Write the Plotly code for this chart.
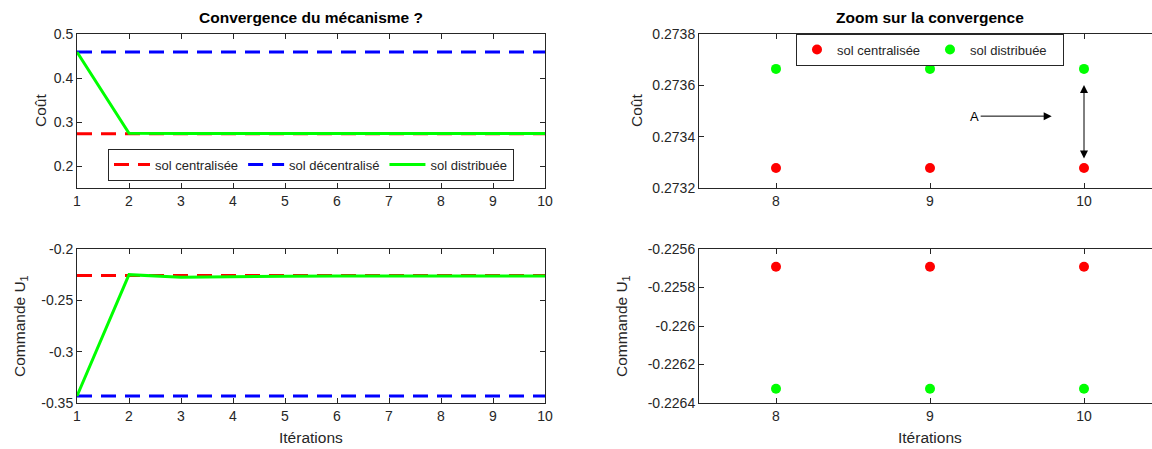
import plotly.graph_objects as go

# ---------------- data ----------------
iterations = [1, 2, 3, 4, 5, 6, 7, 8, 9, 10]
cost_centralised = [0.27328] * 10
cost_decentralised = [0.459] * 10
cost_distributed = [0.459, 0.2745, 0.27372, 0.27368, 0.27367, 0.27367, 0.27367, 0.27367, 0.27367, 0.27367]

u1_centralised = [-0.225692] * 10
u1_decentralised = [-0.3432] * 10
u1_distributed = [-0.3432, -0.2250, -0.2276, -0.2268, -0.2265, -0.22638, -0.22634, -0.226326, -0.226326, -0.226326]

zoom_iter = [8, 9, 10]
zoom_cost_centralised = [0.273278, 0.273278, 0.273278]
zoom_cost_distributed = [0.273664, 0.273664, 0.273664]
zoom_u1_centralised = [-0.225692, -0.225692, -0.225692]
zoom_u1_distributed = [-0.226326, -0.226326, -0.226326]

ticks_cost = [0.2, 0.3, 0.4, 0.5]
ticks_cost_txt = ["0.2", "0.3", "0.4", "0.5"]
ticks_u1 = [-0.35, -0.3, -0.25, -0.2]
ticks_u1_txt = ["-0.35", "-0.3", "-0.25", "-0.2"]
ticks_zcost = [0.2732, 0.2734, 0.2736, 0.2738]
ticks_zcost_txt = ["0.2732", "0.2734", "0.2736", "0.2738"]
ticks_zu1 = [-0.2264, -0.2262, -0.226, -0.2258, -0.2256]
ticks_zu1_txt = ["-0.2264", "-0.2262", "-0.226", "-0.2258", "-0.2256"]

# annotation positions (data coords of the zoom plot)
arrow_A_text_x, arrow_A_tip_x, arrow_A_y = 9.29, 9.79, 0.27348
darrow_x, darrow_top, darrow_bottom = 10, 0.273601, 0.273309

# ---------------- style ----------------
W, H = 1152, 449
RED, BLUE, GREEN = "#FF0000", "#0000FF", "#00FF00"
AX = "#262626"
FONT = "Liberation Sans, Arial, Helvetica, sans-serif"
DASH = "15px,9px"
TICK_SIZE = 14
LABEL_SIZE = 15.5

def px(x):
    return x / W

def py(y):
    return 1 - y / H

fig = go.Figure()

# top-left
fig.add_trace(go.Scatter(x=iterations, y=cost_centralised, mode="lines", name="sol centralisée",
                         line=dict(color=RED, width=3, dash=DASH), xaxis="x", yaxis="y", legend="legend"))
fig.add_trace(go.Scatter(x=iterations, y=cost_decentralised, mode="lines", name="sol décentralisé",
                         line=dict(color=BLUE, width=3, dash=DASH), xaxis="x", yaxis="y", legend="legend"))
fig.add_trace(go.Scatter(x=iterations, y=cost_distributed, mode="lines", name="sol distribuée",
                         line=dict(color=GREEN, width=3), xaxis="x", yaxis="y", legend="legend"))
# bottom-left
fig.add_trace(go.Scatter(x=iterations, y=u1_centralised, mode="lines", showlegend=False,
                         line=dict(color=RED, width=3, dash=DASH), xaxis="x2", yaxis="y2"))
fig.add_trace(go.Scatter(x=iterations, y=u1_decentralised, mode="lines", showlegend=False,
                         line=dict(color=BLUE, width=3, dash=DASH), xaxis="x2", yaxis="y2"))
fig.add_trace(go.Scatter(x=iterations, y=u1_distributed, mode="lines", showlegend=False,
                         line=dict(color=GREEN, width=3), xaxis="x2", yaxis="y2"))
# top-right
fig.add_trace(go.Scatter(x=zoom_iter, y=zoom_cost_centralised, mode="markers", name="sol centralisée",
                         marker=dict(color=RED, size=10), xaxis="x3", yaxis="y3", legend="legend2"))
fig.add_trace(go.Scatter(x=zoom_iter, y=zoom_cost_distributed, mode="markers", name="sol distribuée",
                         marker=dict(color=GREEN, size=10), xaxis="x3", yaxis="y3", legend="legend2"))
# bottom-right
fig.add_trace(go.Scatter(x=zoom_iter, y=zoom_u1_centralised, mode="markers", showlegend=False,
                         marker=dict(color=RED, size=10), xaxis="x4", yaxis="y4"))
fig.add_trace(go.Scatter(x=zoom_iter, y=zoom_u1_distributed, mode="markers", showlegend=False,
                         marker=dict(color=GREEN, size=10), xaxis="x4", yaxis="y4"))

L_DOM = [px(77), px(545)]
R_DOM = [px(699), 1.0]
T_DOM = [py(188), py(34)]
B_DOM = [py(403), py(249)]
R_RANGE = [7.5, 7.5 + (1152 - 699) / 154.0]

def axis(**kw):
    base = dict(showline=True, linecolor=AX, linewidth=1, ticks="inside", ticklen=5,
                tickcolor=AX, tickwidth=1, showgrid=False, zeroline=False,
                tickfont=dict(family=FONT, size=TICK_SIZE, color=AX), automargin=False,
                fixedrange=True)
    base.update(kw)
    return base

fig.update_layout(
    width=W, height=H,
    margin=dict(l=0, r=0, t=0, b=0),
    plot_bgcolor="white", paper_bgcolor="white",
    font=dict(family=FONT, color=AX),
    xaxis=axis(domain=L_DOM, anchor="y", range=[1, 10], tickvals=iterations, mirror="ticks"),
    yaxis=axis(domain=T_DOM, anchor="x", range=[0.15, 0.5], tickvals=ticks_cost,
               ticktext=ticks_cost_txt, mirror="ticks"),
    xaxis2=axis(domain=L_DOM, anchor="y2", range=[1, 10], tickvals=iterations, mirror="ticks"),
    yaxis2=axis(domain=B_DOM, anchor="x2", range=[-0.35, -0.2], tickvals=ticks_u1,
                ticktext=ticks_u1_txt, mirror="ticks"),
    xaxis3=axis(domain=R_DOM, anchor="y3", range=R_RANGE, tickvals=zoom_iter, mirror="ticks"),
    yaxis3=axis(domain=T_DOM, anchor="x3", range=[0.2732, 0.2738], tickvals=ticks_zcost,
                ticktext=ticks_zcost_txt),
    xaxis4=axis(domain=R_DOM, anchor="y4", range=R_RANGE, tickvals=zoom_iter, mirror="ticks"),
    yaxis4=axis(domain=B_DOM, anchor="x4", range=[-0.2264, -0.2256], tickvals=ticks_zu1,
                ticktext=ticks_zu1_txt),
    legend=dict(x=px(311), xanchor="center", y=py(164.5), yanchor="middle",
                orientation="h", bgcolor="white", bordercolor=AX, borderwidth=1,
                font=dict(family=FONT, size=13, color=AX), itemwidth=36,
                tracegroupgap=0),
    legend2=dict(x=px(930), xanchor="center", y=py(49.5), yanchor="middle",
                 orientation="h", bgcolor="white", bordercolor=AX, borderwidth=1,
                 font=dict(family=FONT, size=13, color=AX), itemwidth=30,
                 entrywidth=88),
    showlegend=True,
)

ann = []
# titles
ann.append(dict(text="<b>Convergence du mécanisme ?</b>", x=px(311), y=py(18), xref="paper", yref="paper",
                showarrow=False, font=dict(size=15.5, color="black"), xanchor="center", yanchor="middle"))
ann.append(dict(text="<b>Zoom sur la convergence</b>", x=px(930), y=py(18), xref="paper", yref="paper",
                showarrow=False, font=dict(size=15.5, color="black"), xanchor="center", yanchor="middle"))
# axis titles
for (xp, yp, t) in [(40, 111, "Coût"), (20, 326, "Commande U<sub>1</sub>"),
                    (636, 111, "Coût"), (622, 326, "Commande U<sub>1</sub>")]:
    ann.append(dict(text=t, x=px(xp), y=py(yp), xref="paper", yref="paper", showarrow=False,
                    textangle=-90, font=dict(size=LABEL_SIZE, color=AX), xanchor="center", yanchor="middle"))
for xp in (311, 930):
    ann.append(dict(text="Itérations", x=px(xp), y=py(437), xref="paper", yref="paper", showarrow=False,
                    font=dict(size=LABEL_SIZE, color=AX), xanchor="center", yanchor="middle"))
# arrows on the zoom plot
ann.append(dict(text="A", x=arrow_A_tip_x, y=arrow_A_y, xref="x3", yref="y3",
                ax=arrow_A_text_x, ay=arrow_A_y, axref="x3", ayref="y3",
                showarrow=True, arrowhead=2, arrowsize=1.6, arrowwidth=1,
                arrowcolor="black", font=dict(size=13, color="black")))
ann.append(dict(text="", x=darrow_x, y=darrow_top, xref="x3", yref="y3",
                ax=darrow_x, ay=darrow_bottom, axref="x3", ayref="y3",
                showarrow=True, arrowhead=2, startarrowhead=2, arrowside="end+start",
                arrowsize=1.6, startarrowsize=1.6, arrowwidth=1, arrowcolor="black"))
fig.update_layout(annotations=ann)

fig.write_html("out.html", config={"displayModeBar": False},
               post_script="document.body.style.margin='0';document.body.style.overflow='hidden';")
